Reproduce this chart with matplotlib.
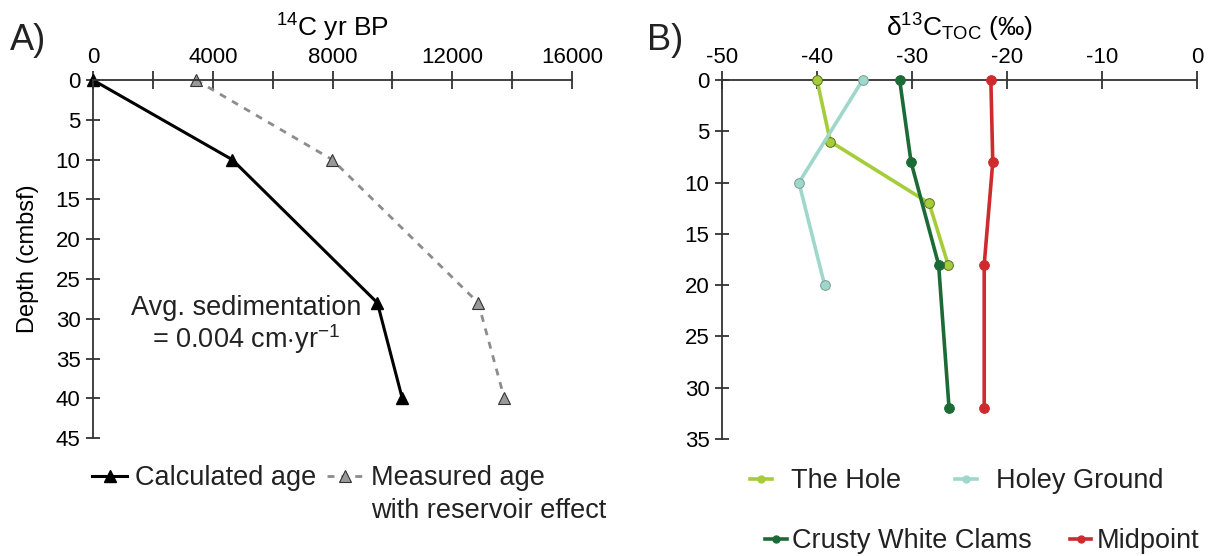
import matplotlib.pyplot as plt
from matplotlib.lines import Line2D

plt.rcParams['font.family'] = ['Liberation Sans', 'DejaVu Sans']
plt.rcParams['mathtext.fontset'] = 'custom'
plt.rcParams['mathtext.rm'] = 'Liberation Sans'
plt.rcParams['mathtext.it'] = 'Liberation Sans'
plt.rcParams['axes.unicode_minus'] = False
plt.rcParams['text.color'] = '#222222'

# Panel A: radiocarbon ages vs depth
depth_age = [0, 10, 28, 40]
calc_age = [0, 4650, 9500, 10330]
measured_age = [3440, 7990, 12870, 13740]

# Panel B: d13C of total organic carbon vs depth
hole_depth = [0, 6, 12, 18]
hole_d13c = [-40.0, -38.6, -28.2, -26.2]
holey_depth = [0, 10, 20]
holey_d13c = [-35.2, -41.9, -39.2]
crusty_depth = [0, 8, 18, 32]
crusty_d13c = [-31.3, -30.1, -27.2, -26.1]
mid_depth = [0, 8, 18, 32]
mid_d13c = [-21.7, -21.5, -22.4, -22.4]

fig = plt.figure(figsize=(12.08, 5.56), dpi=100)
axA = fig.add_axes([0.077, 0.212, 0.3965, 0.644])
axB = fig.add_axes([0.5977, 0.2104, 0.3932, 0.6456])

for ax in (axA, axB):
    ax.spines['right'].set_visible(False)
    ax.spines['bottom'].set_visible(False)
    for s in ('top', 'left'):
        ax.spines[s].set_color('#333333')
        ax.spines[s].set_linewidth(1.3)
    ax.xaxis.tick_top()
    ax.xaxis.set_label_position('top')
    ax.tick_params(axis='x', direction='inout', length=13, width=1.3,
                   color='#333333', labelsize=16, pad=2)
    ax.tick_params(axis='y', direction='inout', length=10, width=1.3,
                   color='#333333', labelsize=16, pad=4)

# --- A ---
axA.plot(calc_age, depth_age, color='black', lw=2.2, marker='^', ms=9,
         mfc='black', mec='black', label='Calculated age', clip_on=False)
axA.plot(measured_age, depth_age, color='#8c8c8c', lw=2, ls=(0, (2.5, 2.5)),
         marker='^', ms=9, mfc='#999999', mec='#333333', mew=0.8,
         label='Measured age', clip_on=False)
axA.set_xlim(0, 16000)
axA.set_ylim(45, 0)
axA.set_xticks(range(0, 16001, 2000))
axA.set_xticklabels([str(v) if v % 4000 == 0 else '' for v in range(0, 16001, 2000)])
axA.set_yticks(range(0, 46, 5))
axA.set_xlabel(r'$^{14}$C yr BP', fontsize=19, labelpad=8)
axA.set_ylabel('Depth (cmbsf)', fontsize=17, labelpad=12)
axA.text(0.32, 0.315, 'Avg. sedimentation\n' + r'= 0.004 cm$\cdot$yr$^{-1}$',
         transform=axA.transAxes, ha='center', va='center', fontsize=19.5,
         linespacing=1.05)
legA = axA.legend(loc='center left', bbox_to_anchor=(92 / 1208, 1 - 478 / 556),
                  bbox_transform=fig.transFigure, ncol=2, frameon=False,
                  fontsize=19.5, handlelength=1.3, handletextpad=0.3,
                  columnspacing=0.4, borderpad=0, borderaxespad=0)

# --- B ---
series = [
    ('The Hole', hole_d13c, hole_depth, '#a5cd3a', '#5a6e20'),
    ('Holey Ground', holey_d13c, holey_depth, '#9fd8cb', '#7a9c96'),
    ('Crusty White Clams', crusty_d13c, crusty_depth, '#1c6b36', '#1c6b36'),
    ('Midpoint', mid_d13c, mid_depth, '#cf2a2e', '#cf2a2e'),
]
handles = {}
for name, xs, ys, col, edge in series:
    axB.plot(xs, ys, color=col, lw=2.6, marker='o', ms=7, mfc=col, mec=edge,
             mew=0.7, clip_on=False, zorder=3)
    handles[name] = Line2D([], [], color=col, lw=2.6, marker='o', ms=5,
                           mfc=col, mec=col)
axB.set_xlim(-50, 0)
axB.set_ylim(35, 0)
axB.set_xticks(range(-50, 1, 10))
axB.set_yticks(range(0, 36, 5))
axB.set_xlabel(r'δ$^{13}$C$_{\mathregular{TOC}}$ (‰)', fontsize=19, labelpad=8)

leg1 = axB.legend([handles['The Hole'], handles['Holey Ground']],
                  ['The Hole', 'Holey Ground'], loc='center left',
                  bbox_to_anchor=(750 / 1208, 1 - 481 / 556),
                  bbox_transform=fig.transFigure, ncol=2, frameon=False,
                  fontsize=19.5, handlelength=0.8, handletextpad=0.7,
                  columnspacing=2.0, borderpad=0, borderaxespad=0)
axB.add_artist(leg1)
axB.legend([handles['Crusty White Clams'], handles['Midpoint']],
           ['Crusty White Clams', 'Midpoint'], loc='center left',
           bbox_to_anchor=(765 / 1208, 1 - 541 / 556),
           bbox_transform=fig.transFigure, ncol=2, frameon=False,
           fontsize=19.5, handlelength=0.8, handletextpad=0.2,
           columnspacing=1.4, borderpad=0, borderaxespad=0)

fig.text(0.008, 0.928, 'A)', fontsize=26, va='center', ha='left')
fig.text(0.536, 0.928, 'B)', fontsize=26, va='center', ha='left')

# second line of the measured-age legend entry, under its first line
fig.canvas.draw()
bb = legA.get_texts()[1].get_window_extent()
fig.text(bb.x0 / fig.bbox.width, bb.y0 / fig.bbox.height - 0.012,
         'with reservoir effect', fontsize=19.5, ha='left', va='top')

fig.savefig('out.png', dpi=100)
